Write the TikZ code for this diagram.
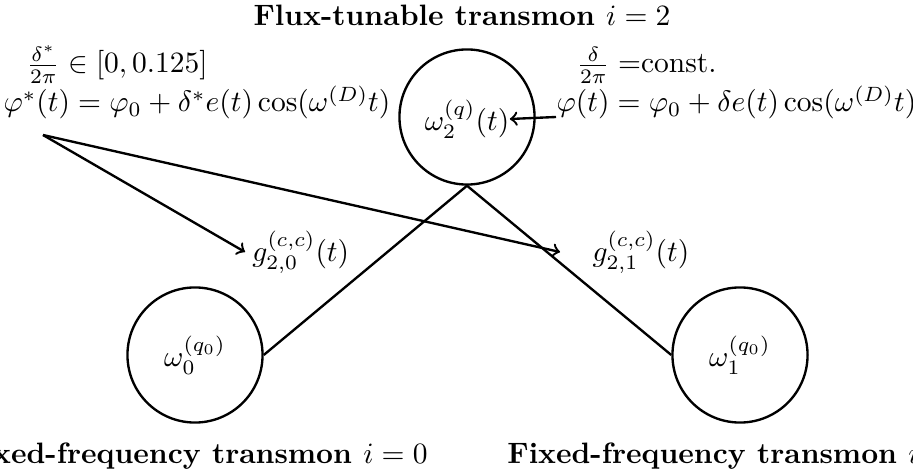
\documentclass[tikz,border=0pt]{standalone}
\begin{document}
\begin{tikzpicture}[x=0.339pt,y=-0.339pt,
  qubit/.style={draw, circle, thick, minimum size=45.8pt, inner sep=0pt},
  lbl/.style={inner sep=0pt},
  title/.style={inner sep=0pt, anchor=base, font=\bfseries},
  conn/.style={thick},
  arr/.style={thick,->}]
\useasboundingbox (0,0) rectangle (913,476);
% qubits
\node[qubit] (c2) at (467,117) {};
\node[lbl] (t2) at (467,119) {$\omega_2^{(q)}(t)$};
\node[qubit] (c0) at (195,355) {$\omega_0^{(q_0)}$};
\node[qubit] (c1) at (740,355) {$\omega_1^{(q_0)}$};
% titles
\node[title] (T2) at (462,26) {Flux-tunable transmon $i=2$};
\node[title] (T0) at (195,463) {Fixed-frequency transmon $i=0$};
\node[title] (T1) at (740,463) {Fixed-frequency transmon $i=1$};
% drive formulas
\node[lbl, anchor=base west] (dL) at (26,73) {$\frac{\delta^*}{2\pi}\in[0,0.125]$};
\node[lbl, anchor=base west] (pL) at (3,112) {$\varphi^*(t)=\varphi_0+\delta^*e(t)\cos(\omega^{(D)}t)$};
\node[lbl, anchor=base west] (dR) at (576,73) {$\frac{\delta}{2\pi}=$const.};
\node[lbl, anchor=base west] (pR) at (556,112) {$\varphi(t)=\varphi_0+\delta e(t)\cos(\omega^{(D)}t)$};
% couplings
\node[anchor=west, inner sep=2.3pt] (g20) at (245,252) {$g_{2,0}^{(c,c)}(t)$};
\node[lbl, anchor=west] (g21) at (592,252) {$g_{2,1}^{(c,c)}(t)$};
\coordinate (s) at (43,135);
\coordinate (e21) at (560,252);
% connectors
\draw[arr] (c2.center -| pR.west) -- (t2.east);
\draw[arr] (s) -- (g20.west);
\draw[arr] (s) -- (e21);
\draw[conn] (c2.south) -- (c0.east);
\draw[conn] (c2.south) -- (c1.west);
\end{tikzpicture}
\end{document}
